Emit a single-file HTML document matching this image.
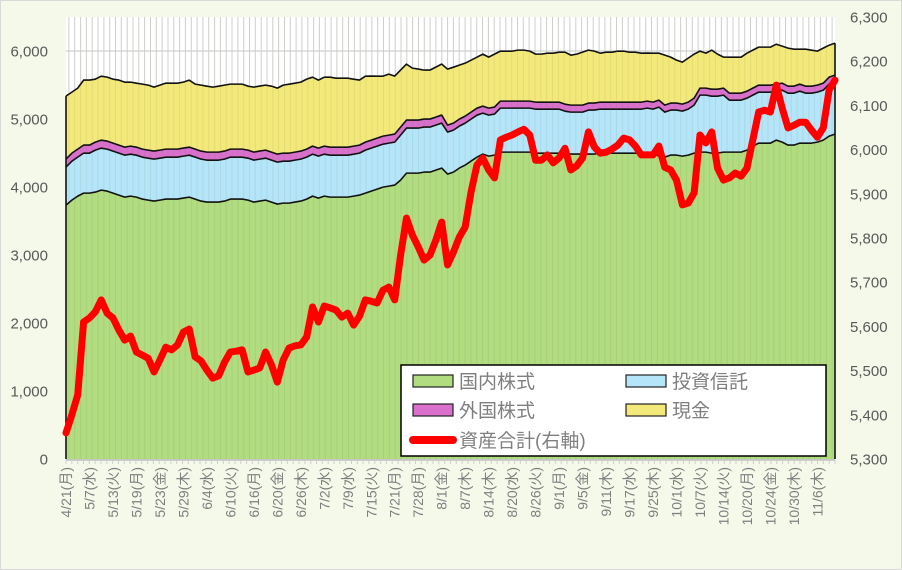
<!DOCTYPE html>
<html><head><meta charset="utf-8">
<style>
html,body{margin:0;padding:0;background:#f4f9ea;}
svg{display:block;font-family:"Liberation Sans","Noto Sans CJK JP",sans-serif;}
</style></head>
<body>
<svg id="chart" width="902" height="570" viewBox="0 0 902 570">
<rect x="0.5" y="0.5" width="901" height="569" fill="#f4f9ea" stroke="#d9d9d9"/>
<g id="plot"></g>
</svg>
<script>
const tickLabels = ["4/21(月)","5/7(水)","5/13(火)","5/19(月)","5/23(金)","5/29(木)","6/4(水)","6/10(火)","6/16(月)","6/20(金)","6/26(木)","7/2(水)","7/9(水)","7/15(火)","7/21(月)","7/28(月)","8/1(金)","8/7(木)","8/14(木)","8/20(水)","8/26(火)","9/1(月)","9/5(金)","9/11(木)","9/17(水)","9/25(木)","10/1(水)","10/7(火)","10/14(火)","10/20(月)","10/24(金)","10/30(木)","11/6(木)"];
const leftTicks = [0,1000,2000,3000,4000,5000,6000];
const rightTicks = [5300,5400,5500,5600,5700,5800,5900,6000,6100,6200,6300];
const domestic = [3734,3807,3866,3910,3910,3925,3954,3940,3910,3881,3851,3866,3851,3822,3807,3793,3807,3822,3822,3822,3837,3851,3822,3793,3778,3778,3778,3793,3822,3822,3822,3807,3778,3793,3807,3778,3749,3763,3763,3778,3793,3822,3866,3837,3866,3851,3851,3851,3851,3866,3881,3910,3940,3969,3998,4013,4028,4101,4204,4204,4204,4219,4219,4248,4278,4190,4219,4278,4322,4381,4439,4484,4454,4469,4513,4513,4513,4513,4513,4513,4498,4498,4498,4498,4498,4498,4484,4484,4484,4484,4484,4498,4498,4498,4498,4498,4498,4498,4498,4513,4498,4454,4439,4469,4469,4454,4469,4498,4513,4513,4498,4498,4513,4513,4513,4513,4542,4601,4645,4645,4645,4689,4660,4616,4616,4645,4645,4645,4660,4689,4748,4778];
const trust = [559,573,573,588,588,617,617,617,617,617,617,617,617,617,617,617,617,617,617,617,617,617,617,617,617,617,617,617,617,617,617,617,617,617,617,617,617,617,617,617,617,617,617,617,617,617,617,617,617,617,617,632,632,632,632,632,632,662,662,662,662,662,662,662,662,617,617,617,617,617,617,603,603,603,647,647,647,647,647,647,647,647,647,647,647,617,617,617,617,647,647,647,647,647,647,647,647,647,647,647,647,720,662,662,662,662,676,706,838,838,838,838,838,764,764,764,764,750,750,750,750,720,764,764,764,764,735,735,735,735,764,764];
const foreign = [118,118,118,118,118,118,118,118,118,118,118,118,118,118,118,118,118,118,118,118,118,118,118,118,118,118,118,118,118,118,118,118,118,118,118,118,118,118,118,118,118,118,118,118,118,118,118,118,118,118,118,118,118,118,118,118,118,118,118,118,118,118,118,118,118,103,103,103,103,103,103,103,103,103,103,103,103,103,103,103,103,103,103,103,103,103,103,103,103,103,103,103,103,103,103,103,103,103,103,103,103,103,103,103,103,103,103,103,103,103,103,103,103,103,103,103,103,103,103,103,103,103,103,103,103,103,103,103,103,103,103,103];
const cash = [926,897,897,956,956,926,941,941,941,956,956,941,941,956,956,941,956,970,970,970,970,985,956,970,970,956,970,970,956,956,956,941,956,956,956,970,970,1000,1014,1014,1014,1029,1014,1000,1014,1029,1014,1014,1014,985,956,970,941,911,882,897,853,838,823,764,750,720,720,735,750,823,823,794,779,764,750,764,750,779,735,735,735,750,750,735,706,706,720,720,735,764,735,750,779,779,764,720,735,735,750,750,735,735,720,706,720,691,735,676,632,617,647,647,544,515,573,515,456,529,529,529,559,559,559,559,559,588,544,559,544,515,544,529,500,515,470,470];
const totalAssets = [5359,5400,5445,5610,5619,5633,5660,5630,5619,5592,5569,5578,5542,5535,5528,5497,5524,5553,5547,5558,5587,5594,5531,5522,5501,5483,5488,5519,5542,5544,5547,5497,5501,5506,5542,5513,5474,5524,5551,5556,5558,5576,5644,5610,5646,5642,5637,5621,5630,5603,5623,5660,5657,5653,5682,5689,5660,5761,5845,5807,5780,5750,5761,5795,5836,5739,5768,5802,5825,5904,5965,5981,5954,5936,6022,6028,6033,6040,6046,6033,5976,5976,5988,5970,5981,6003,5954,5963,5981,6040,6006,5992,5994,6001,6010,6026,6022,6008,5988,5988,5988,6008,5960,5954,5931,5875,5879,5902,6033,6015,6040,5958,5931,5936,5947,5940,5958,6022,6085,6089,6085,6146,6094,6049,6055,6062,6062,6044,6028,6049,6135,6157];

const NS = "http://www.w3.org/2000/svg";
const svg = document.getElementById('chart');
const g = document.getElementById('plot');
const X0 = 66, X1 = 835, Y0 = 459, Y1 = 17;
const N = domestic.length;
const xs = i => X0 + i * (X1 - X0) / (N - 1);
const yL = v => Y0 - v * (Y0 - Y1) / 6500;
const yR = v => Y0 - (v - 5300) * (Y0 - Y1) / 1000;
function mk(tag, attrs, parent) {
  const e = document.createElementNS(NS, tag);
  for (const k in attrs) e.setAttribute(k, attrs[k]);
  (parent || g).appendChild(e);
  return e;
}
const bg = mk('rect', {x: X0, y: Y1, width: X1 - X0, height: Y0 - Y1, fill: '#ffffff'});


function vgrid(color) {
  let d = '';
  for (let i = 0; i < N; i++) { const x = (X0 + (i + 0.5) * (X1 - X0) / N).toFixed(1); d += `M${x},${Y1}V${Y0}`; }
  return mk('path', {d: d, stroke: color, 'stroke-width': 1, fill: 'none'});
}
const vg = vgrid('#dcdcdc');


leftTicks.forEach(t => {
  const l = mk('line', {x1: X0, x2: X1, y1: yL(t), y2: yL(t), stroke: '#d9d9d9', 'stroke-width': 1.5});
  
  
});
// stacked areas
const series = [
  {vals: domestic, fill: '#b1dc80', name: 'area-domestic-stocks'},
  {vals: trust, fill: '#b5e5f8', name: 'area-investment-trusts'},
  {vals: foreign, fill: '#d870cc', name: 'area-foreign-stocks'},
  {vals: cash, fill: '#f3e97b', name: 'area-cash'}
];
const base = new Array(N).fill(0);
const areas = [];
series.forEach(s => {
  const top = base.map((b, i) => b + s.vals[i]);
  let d = `M${xs(0)},${yL(top[0])}`;
  for (let i = 1; i < N; i++) d += `L${xs(i).toFixed(2)},${yL(top[i]).toFixed(2)}`;
  let dd = d;
  for (let i = N - 1; i >= 0; i--) dd += `L${xs(i).toFixed(2)},${yL(base[i]).toFixed(2)}`;
  dd += 'Z';
  areas.push({d: d, dd: dd, s: s});
  for (let i = 0; i < N; i++) base[i] = top[i];
});
areas.slice().reverse().forEach(a => {
  const p = mk('path', {d: a.dd, fill: a.s.fill, stroke: 'none'});
  
  
});
areas.forEach(a => {
  const p = mk('path', {d: a.d, fill: 'none', stroke: '#111', 'stroke-width': 1.6, 'stroke-linejoin': 'round'});
  
  
});
const vg2 = vgrid('rgba(90,110,60,0.10)');


// left/right edges of areas
const le = mk('line', {x1: X0, x2: X0, y1: yL(base[0]), y2: Y0, stroke: '#111', 'stroke-width': 1.6});


const re = mk('line', {x1: X1, x2: X1, y1: yL(base[N - 1]), y2: Y0, stroke: '#111', 'stroke-width': 1.6});


// x axis
const ax = mk('line', {x1: X0, x2: X1, y1: Y0 + 1, y2: Y0 + 1, stroke: '#bfbfbf', 'stroke-width': 1.5});


let td = '';
for (let i = 0; i <= N; i++) { const x = (X0 + i * (X1 - X0) / N).toFixed(1); td += `M${x},${Y0 + 1}V${Y0 + 5}`; }
const ticks = mk('path', {d: td, stroke: '#cfcfcf', 'stroke-width': 1});


// red line
let ld = '';
totalAssets.forEach((v, i) => { ld += (i ? 'L' : 'M') + xs(i).toFixed(2) + ',' + yR(v).toFixed(2); });
const line = mk('path', {d: ld, fill: 'none', stroke: '#ff0000', 'stroke-width': 7, 'stroke-linejoin': 'round', 'stroke-linecap': 'round'});


// axis labels
leftTicks.forEach(t => {
  const tx = mk('text', {x: 48, y: yL(t) + 5.5, 'text-anchor': 'end', 'font-size': 15, fill: '#595959'}, svg);
  tx.textContent = t.toLocaleString('en-US');
  
  
});
rightTicks.forEach(t => {
  const tx = mk('text', {x: 850, y: yR(t) + 5.5, 'text-anchor': 'start', 'font-size': 15, fill: '#595959'}, svg);
  tx.textContent = t.toLocaleString('en-US');
  
  
});
tickLabels.forEach((t, k) => {
  const x = xs(k * 4) + 5;
  const tx = mk('text', {x: 0, y: 0, 'text-anchor': 'end', 'font-size': 14, fill: '#7f7f7f', transform: `translate(${x.toFixed(1)},467) rotate(-90)`}, svg);
  tx.textContent = t;
  
  
});
// legend
const lg = mk('g', {}, svg);


const lb = mk('rect', {x: 401, y: 365, width: 425, height: 91, fill: '#ffffff', stroke: '#000', 'stroke-width': 1.5}, lg);


const legendItems = [
  {label: '国内株式', fill: '#b1dc80', x: 413, y: 381},
  {label: '投資信託', fill: '#b5e5f8', x: 626, y: 381},
  {label: '外国株式', fill: '#d870cc', x: 413, y: 410},
  {label: '現金', fill: '#f3e97b', x: 626, y: 410}
];
legendItems.forEach(it => {
  const r = mk('rect', {x: it.x, y: it.y - 6, width: 40, height: 12, fill: it.fill, stroke: '#222', 'stroke-width': 1.2}, lg);
  
  
  const tx = mk('text', {x: it.x + 46, y: it.y + 7, 'font-size': 19, fill: '#7f7f7f'}, lg);
  tx.textContent = it.label;
  
  
});
const ll = mk('line', {x1: 413, x2: 453, y1: 440, y2: 440, stroke: '#ff0000', 'stroke-width': 8, 'stroke-linecap': 'round'}, lg);


const lt = mk('text', {x: 459, y: 447, 'font-size': 19, fill: '#7f7f7f'}, lg);
lt.textContent = '資産合計(右軸)';


</script>
</body></html>
